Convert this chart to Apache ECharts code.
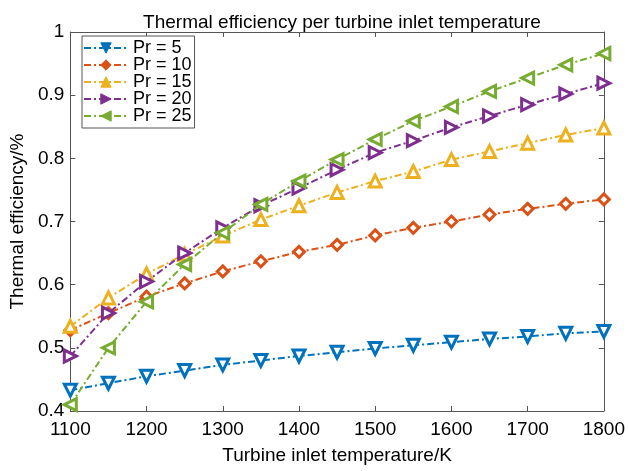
<!DOCTYPE html>
<html><head><meta charset="utf-8">
<script src="https://cdn.jsdelivr.net/npm/echarts@6/dist/echarts.min.js"></script>
<style>html,body{margin:0;padding:0;background:#fff}#c{width:628px;height:471px}</style>
</head><body><div id="c"></div>
<script>
const temperatures = [1100,1150,1200,1250,1300,1350,1400,1450,1500,1550,1600,1650,1700,1750,1800];
const seriesNames = ['Pr = 5','Pr = 10','Pr = 15','Pr = 20','Pr = 25'];
const pr5  = [0.433,0.444,0.455,0.464,0.473,0.480,0.487,0.493,0.499,0.504,0.509,0.514,0.518,0.523,0.526];
const pr10 = [0.528,0.555,0.581,0.602,0.621,0.637,0.652,0.663,0.678,0.690,0.700,0.711,0.720,0.728,0.735];
const pr15 = [0.534,0.579,0.617,0.648,0.677,0.703,0.725,0.746,0.764,0.779,0.798,0.811,0.824,0.837,0.848];
const pr20 = [0.487,0.555,0.605,0.650,0.690,0.725,0.753,0.782,0.809,0.828,0.849,0.867,0.885,0.902,0.919];
const pr25 = [0.410,0.500,0.573,0.632,0.682,0.727,0.764,0.798,0.830,0.859,0.882,0.906,0.927,0.948,0.966];
const xTicks = [1100,1200,1300,1400,1500,1600,1700,1800];
const yTicks = [0.4,0.5,0.6,0.7,0.8,0.9,1];

const allValues = [pr5, pr10, pr15, pr20, pr25];
const colors = ['#0072BD','#D95319','#EDB120','#7E2F8E','#77AC30'];
const symbols = ['triangle','diamond','triangle','triangle','triangle'];
const rotations = [180, 0, 0, -90, 90];
const FONT = 'Liberation Sans, Arial, Helvetica, sans-serif';

const series = allValues.map((vals, i) => ({
  name: seriesNames[i],
  type: 'line',
  data: vals.map((v, j) => [temperatures[j], v]),
  symbol: symbols[i],
  symbolRotate: rotations[i],
  symbolSize: i === 1 ? 11 : 12,
  showAllSymbol: true,
  lineStyle: { color: colors[i], width: 2, type: [7, 3, 2, 3] },
  itemStyle: { color: '#fff', borderColor: colors[i], borderWidth: 3 },
  emphasis: { disabled: true },
  animation: false,
  z: 2 + i
}));

const chart = echarts.init(document.getElementById('c'), null, { renderer: 'canvas' });
chart.setOption({
  backgroundColor: '#fff',
  animation: false,
  title: {
    text: 'Thermal efficiency per turbine inlet temperature',
    left: 337, top: 8, textAlign: 'center',
    textStyle: { fontFamily: FONT, fontSize: 19, fontWeight: 'normal', color: '#000' }
  },
  legend: {
    data: seriesNames.map((n, i) => ({ name: n, itemStyle: { color: colors[i], borderColor: colors[i], borderWidth: 1 } })),
    orient: 'vertical',
    left: 82, top: 36,
    itemWidth: 44, itemHeight: 13, itemGap: -1,
    padding: [3, 3, 3, 1],
    borderColor: '#555', borderWidth: 1, backgroundColor: '#fff',
    textStyle: { fontFamily: FONT, fontSize: 18, color: '#000' }
  },
  grid: { left: 69, right: 23, top: 32, bottom: 60, containLabel: false },
  xAxis: [{
    type: 'value', min: 1100, max: 1800, interval: 100,
    name: 'Turbine inlet temperature/K', nameLocation: 'middle', nameGap: 35,
    nameTextStyle: { fontFamily: FONT, fontSize: 19, color: '#000' },
    axisLine: { lineStyle: { color: '#555', width: 1 } },
    axisTick: { inside: true, length: 5, lineStyle: { color: '#555' } },
    axisLabel: { fontFamily: FONT, fontSize: 19, color: '#000', margin: 9,
      formatter: v => xTicks.includes(v) ? String(v) : '' },
    splitLine: { show: false }
  }, {
    type: 'value', min: 1100, max: 1800, interval: 100, position: 'top',
    axisLine: { lineStyle: { color: '#555', width: 1 } },
    axisTick: { inside: true, length: 5, lineStyle: { color: '#555' } },
    axisLabel: { show: false }, splitLine: { show: false }
  }],
  yAxis: [{
    type: 'value', min: 0.4, max: 1, interval: 0.1,
    name: 'Thermal efficiency/%', nameLocation: 'middle', nameGap: 41,
    nameTextStyle: { fontFamily: FONT, fontSize: 19, color: '#000' },
    axisLine: { lineStyle: { color: '#555', width: 1 } },
    axisTick: { inside: true, length: 5, lineStyle: { color: '#555' } },
    axisLabel: { fontFamily: FONT, fontSize: 19, color: '#000', margin: 6,
      formatter: v => { const r = Math.round(v * 10) / 10; return yTicks.includes(r) ? String(r) : ''; } },
    splitLine: { show: false }
  }, {
    type: 'value', min: 0.4, max: 1, interval: 0.1, position: 'right',
    axisLine: { lineStyle: { color: '#555', width: 1 } },
    axisTick: { inside: true, length: 5, lineStyle: { color: '#555' } },
    axisLabel: { show: false }, splitLine: { show: false }
  }],
  series: series
});
</script>
</body></html>
